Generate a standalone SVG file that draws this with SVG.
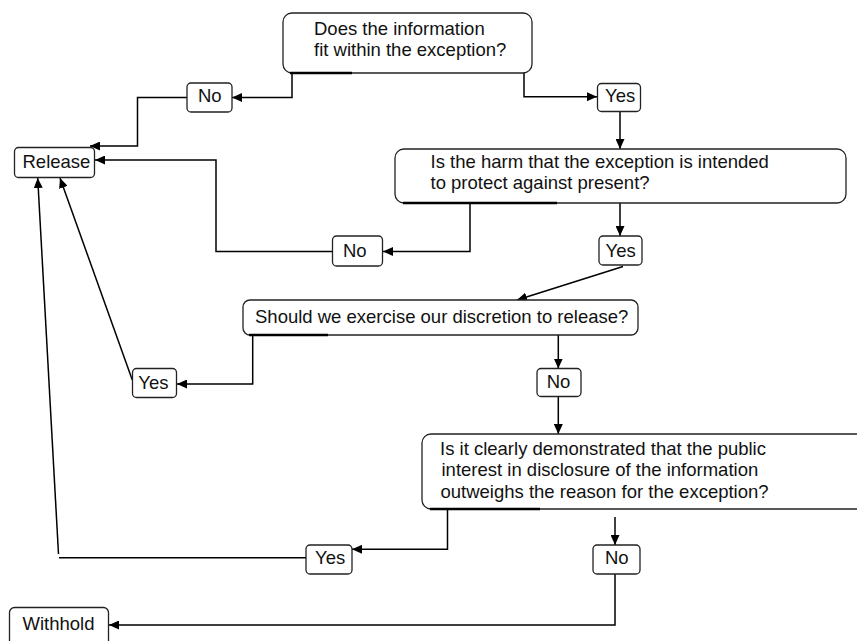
<svg xmlns="http://www.w3.org/2000/svg" width="857" height="641" viewBox="0 0 857 641">
<style>
.box{fill:#fff;stroke:#222;stroke-width:1.3}
.t{font-family:"Liberation Sans",Arial,sans-serif;font-size:18.5px;fill:#111}
.c{fill:none;stroke:#000;stroke-width:1.5}
.thick{fill:none;stroke:#000;stroke-width:2.4}
</style>
<defs>
<marker id="ah" markerUnits="userSpaceOnUse" markerWidth="10" markerHeight="9" refX="10" refY="4.5" orient="auto">
<path d="M0,0 L10,4.5 L0,9 z" fill="#000"/>
</marker>
</defs>
<rect width="857" height="641" fill="#fff"/>
<g id="connectors">
<path class="c" d="M292 73 V97.5 H232" marker-end="url(#ah)"/>
<path class="c" d="M187 97.5 H137.5 V146 H90" marker-end="url(#ah)"/>
<path class="c" d="M524 73 V96.7 H597" marker-end="url(#ah)"/>
<path class="c" d="M620 112 V149" marker-end="url(#ah)"/>
<path class="c" d="M470 203 V251.5 H383" marker-end="url(#ah)"/>
<path class="c" d="M332 251.5 H216 V160 H95" marker-end="url(#ah)"/>
<path class="c" d="M620 203 V236" marker-end="url(#ah)"/>
<path class="c" d="M623 266.5 L517 300" marker-end="url(#ah)"/>
<path class="c" d="M252.7 335 V384 H177" marker-end="url(#ah)"/>
<path class="c" d="M132.3 380 L60 178" marker-end="url(#ah)"/>
<path class="c" d="M558.3 335 V368.5" marker-end="url(#ah)"/>
<path class="c" d="M558.3 397 V434" marker-end="url(#ah)"/>
<path class="c" d="M447.5 509 V549.3 H352" marker-end="url(#ah)"/>
<path class="c" d="M306 557.7 H59"/>
<path class="c" d="M58.5 554 L37.7 178" marker-end="url(#ah)"/>
<path class="c" d="M615 517 V545" marker-end="url(#ah)"/>
<path class="c" d="M615 574 V625 H109" marker-end="url(#ah)"/>
</g>
<g id="q1">
<rect class="box" x="283" y="13" width="249" height="60" rx="9"/>
<path class="thick" d="M290 73 H352"/>
<text class="t" x="314" y="35">Does the information</text>
<text class="t" x="314" y="56">fit within the exception?</text>
</g>
<g id="no1">
<rect class="box" x="187" y="83" width="45" height="29" rx="4"/>
<text class="t" x="198" y="102">No</text>
</g>
<g id="yes1">
<rect class="box" x="597.5" y="83.5" width="43" height="28" rx="4"/>
<text class="t" x="605" y="102">Yes</text>
</g>
<g id="release">
<rect class="box" x="14.5" y="147.5" width="80" height="30" rx="4"/>
<text class="t" x="22.5" y="168">Release</text>
</g>
<g id="q2">
<rect class="box" x="395" y="149" width="451" height="54" rx="9"/>
<path class="thick" d="M403 203 H557"/>
<text class="t" x="430.5" y="167.5">Is the harm that the exception is intended</text>
<text class="t" x="430.5" y="188.5">to protect against present?</text>
</g>
<g id="no2">
<rect class="box" x="332.5" y="236" width="50" height="30" rx="4"/>
<text class="t" x="343" y="256.5">No</text>
</g>
<g id="yes2">
<rect class="box" x="599" y="236" width="43" height="29" rx="4"/>
<text class="t" x="605.5" y="256.5">Yes</text>
</g>
<g id="q3">
<rect class="box" x="243" y="300" width="395" height="35" rx="7"/>
<path class="thick" d="M249 335 H328"/>
<text class="t" x="255" y="322.5">Should we exercise our discretion to release?</text>
</g>
<g id="yes3">
<rect class="box" x="132.5" y="368.5" width="44" height="29" rx="4"/>
<text class="t" x="138.3" y="388.5">Yes</text>
</g>
<g id="no3">
<rect class="box" x="537" y="368.5" width="44" height="28" rx="4"/>
<text class="t" x="546.7" y="388">No</text>
</g>
<g id="q4">
<rect class="box" x="422" y="434" width="460" height="75" rx="9"/>
<path class="thick" d="M430 509 H540"/>
<text class="t" x="440" y="454.5">Is it clearly demonstrated that the public</text>
<text class="t" x="441.5" y="476">interest in disclosure of the information</text>
<text class="t" x="440.5" y="497.5">outweighs the reason for the exception?</text>
</g>
<g id="yes4">
<rect class="box" x="306" y="545" width="46" height="29" rx="4"/>
<text class="t" x="315" y="564">Yes</text>
</g>
<g id="no4">
<rect class="box" x="593" y="545" width="47" height="29" rx="4"/>
<text class="t" x="605" y="564">No</text>
</g>
<g id="withhold">
<rect class="box" x="9.5" y="607.5" width="99" height="45" rx="5"/>
<text class="t" x="22.5" y="630">Withhold</text>
</g>
</svg>
